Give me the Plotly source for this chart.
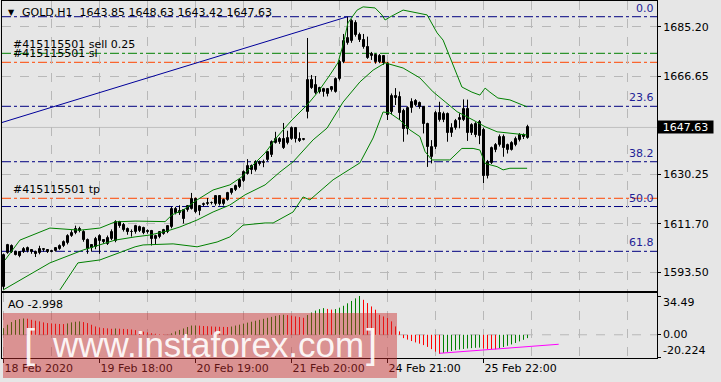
import plotly.graph_objects as go

# ---------------- data ----------------
opens = [1588.0, 1600.9, 1603.4, 1601.3, 1601.0, 1601.1, 1601.5, 1601.8, 1601.3, 1600.8,
         1601.8, 1601.8, 1601.3, 1601.6, 1602.4, 1603.4, 1604.5, 1607.2, 1608.3, 1609.8,
         1608.6, 1605.8, 1603.6, 1603.0, 1605.2, 1605.5, 1604.2, 1606.2, 1605.2, 1612.2,
         1611.4, 1609.8, 1608.8, 1608.6, 1609.0, 1610.0, 1609.0, 1609.0, 1606.1, 1606.8,
         1608.0, 1608.6, 1610.4, 1617.3, 1615.6, 1616.7, 1616.7, 1617.3, 1621.1, 1616.4,
         1618.6, 1619.2, 1619.3, 1618.9, 1621.9, 1618.9, 1620.7, 1623.0, 1624.2, 1625.4,
         1627.7, 1630.4, 1633.2, 1631.7, 1634.8, 1634.2, 1635.4, 1637.3, 1642.0, 1643.5,
         1643.2, 1641.8, 1643.5, 1647.3, 1643.3, 1643.1, 1653.3, 1665.4, 1660.4, 1662.3,
         1660.8, 1660.0, 1661.6, 1661.0, 1665.7, 1672.0, 1679.3, 1679.7, 1686.7, 1682.2,
         1680.3, 1677.5, 1674.2, 1674.5, 1674.1, 1674.1, 1671.2, 1653.5, 1659.4, 1658.9,
         1653.9, 1646.9, 1654.8, 1657.6, 1656.6, 1655.1, 1648.9, 1636.7, 1640.2, 1653.1,
         1650.4, 1652.6, 1645.6, 1647.3, 1650.4, 1650.4, 1654.4, 1645.4, 1648.9, 1644.4,
         1646.6, 1629.4, 1634.4, 1639.2, 1641.0, 1644.1, 1639.4, 1639.4, 1641.0, 1642.9,
         1644.8, 1643.85]
highs = [1600.6, 1604.2, 1604.0, 1601.7, 1601.5, 1603.0, 1603.2, 1602.2, 1601.7, 1603.5,
         1602.6, 1602.0, 1602.0, 1603.0, 1604.0, 1605.5, 1607.8, 1609.3, 1611.0, 1610.6,
         1609.3, 1606.2, 1604.0, 1606.8, 1607.8, 1606.0, 1607.3, 1609.6, 1613.0, 1612.8,
         1612.0, 1610.3, 1609.6, 1611.3, 1611.0, 1610.6, 1609.6, 1609.4, 1607.6, 1609.0,
         1609.8, 1611.2, 1618.0, 1618.0, 1618.6, 1617.2, 1618.6, 1623.2, 1621.5, 1618.6,
         1619.6, 1621.3, 1620.0, 1622.3, 1622.4, 1621.1, 1623.6, 1625.0, 1626.3, 1628.6,
         1631.6, 1635.8, 1633.8, 1635.4, 1635.3, 1635.6, 1638.8, 1642.8, 1646.0, 1644.0,
         1649.3, 1646.4, 1648.0, 1647.8, 1645.8, 1643.6, 1681.0, 1667.2, 1666.8, 1662.8,
         1662.4, 1662.3, 1663.0, 1666.3, 1672.8, 1682.5, 1688.93, 1688.0, 1687.6, 1683.0,
         1682.5, 1681.5, 1675.8, 1675.2, 1675.0, 1674.6, 1672.0, 1660.3, 1662.3, 1661.0,
         1654.6, 1655.5, 1658.5, 1658.2, 1657.3, 1655.6, 1649.4, 1642.9, 1653.8, 1657.2,
         1653.5, 1653.2, 1649.2, 1650.8, 1652.9, 1658.1, 1658.0, 1649.2, 1649.6, 1650.4,
         1647.5, 1635.5, 1640.5, 1641.8, 1645.0, 1645.0, 1641.6, 1642.5, 1644.2, 1645.5,
         1645.4, 1648.63]
lows = [1587.2, 1600.5, 1600.8, 1599.9, 1599.2, 1600.8, 1601.0, 1600.5, 1599.3, 1600.3,
        1601.3, 1600.8, 1601.0, 1601.3, 1602.0, 1603.0, 1604.0, 1606.8, 1607.8, 1608.5,
        1605.0, 1600.5, 1601.3, 1602.2, 1600.5, 1604.3, 1603.8, 1605.6, 1604.8, 1610.2,
        1608.8, 1607.6, 1606.9, 1608.0, 1608.6, 1607.8, 1608.0, 1603.6, 1603.8, 1606.3,
        1607.6, 1608.2, 1610.0, 1615.2, 1615.0, 1611.8, 1616.2, 1617.0, 1615.6, 1614.9,
        1618.2, 1618.6, 1618.9, 1618.5, 1618.5, 1618.5, 1620.3, 1622.6, 1623.9, 1625.0,
        1627.3, 1630.0, 1630.2, 1631.2, 1633.4, 1632.8, 1635.0, 1636.6, 1641.6, 1641.5,
        1639.6, 1641.3, 1643.0, 1642.0, 1642.2, 1642.8, 1651.0, 1662.0, 1660.0, 1660.3,
        1659.1, 1659.2, 1661.0, 1660.6, 1665.2, 1671.6, 1678.5, 1679.2, 1681.5, 1679.5,
        1677.0, 1673.2, 1672.8, 1671.4, 1671.6, 1671.0, 1650.4, 1652.5, 1656.0, 1650.4,
        1642.3, 1645.0, 1653.1, 1655.5, 1654.6, 1645.4, 1632.9, 1634.2, 1639.6, 1649.8,
        1649.6, 1642.3, 1644.1, 1646.8, 1647.3, 1650.0, 1642.6, 1644.8, 1644.0, 1641.4,
        1626.9, 1628.6, 1634.0, 1638.4, 1640.5, 1636.7, 1637.9, 1639.0, 1640.6, 1642.4,
        1643.3, 1643.42]
closes = [1599.9, 1603.6, 1601.1, 1600.2, 1599.5, 1602.4, 1602.6, 1601.0, 1600.3, 1602.3,
          1602.2, 1601.3, 1601.6, 1602.5, 1603.5, 1604.8, 1607.2, 1608.4, 1609.8, 1609.0,
          1605.6, 1602.4, 1602.5, 1606.1, 1607.0, 1604.8, 1606.4, 1608.6, 1612.3, 1611.0,
          1609.2, 1608.6, 1608.6, 1610.7, 1610.4, 1608.2, 1608.6, 1606.1, 1607.2, 1608.6,
          1609.2, 1610.7, 1617.3, 1615.7, 1616.4, 1613.6, 1618.2, 1621.1, 1616.1, 1618.2,
          1619.2, 1619.3, 1619.6, 1621.9, 1618.9, 1620.7, 1623.2, 1624.5, 1625.8, 1628.2,
          1631.0, 1633.2, 1631.7, 1634.8, 1634.0, 1634.8, 1638.3, 1642.3, 1643.5, 1642.2,
          1640.0, 1643.7, 1647.5, 1643.3, 1642.6, 1643.3, 1665.4, 1662.5, 1663.5, 1660.8,
          1662.0, 1661.8, 1662.6, 1665.7, 1672.2, 1679.7, 1681.0, 1687.2, 1682.2, 1680.3,
          1677.5, 1673.7, 1675.0, 1672.0, 1672.2, 1671.6, 1652.3, 1659.5, 1658.5, 1652.9,
          1646.9, 1654.8, 1657.2, 1656.0, 1655.1, 1648.9, 1640.2, 1640.2, 1653.1, 1650.4,
          1652.6, 1645.6, 1647.3, 1650.1, 1651.0, 1654.4, 1645.4, 1648.5, 1644.8, 1649.8,
          1629.4, 1634.8, 1639.8, 1641.0, 1644.1, 1639.8, 1641.0, 1641.7, 1643.5, 1644.8,
          1643.9, 1647.63]

# green indicator lines (bar index, price) read at their turning points
upper_x = [0.4, 4.1, 11.6, 19.1, 24.1, 27.9, 32.9, 40.4, 42.1, 44.9, 48.4, 52.4, 56.6, 59.6,
           61.6, 65.4, 68.4, 72.1, 75.9, 78.6, 81.6, 83.6, 84.9, 86.1, 88.4, 89.9, 92.9,
           94.6, 95.4, 96.6, 99.9, 105.9, 108.4, 109.9, 114.6, 117.1, 119.1, 120.4, 121.6,
           123.6, 126.6, 129.6, 130.9]
upper_y = [1598.2, 1605.6, 1610.1, 1609.3, 1610.1, 1612.4, 1612.7, 1612.5, 1615.0, 1616.8,
           1620.6, 1624.3, 1626.2, 1629.2, 1632.5, 1638.1, 1644.1, 1650.4, 1656.0, 1660.8,
           1667.2, 1671.7, 1678.4, 1686.6, 1691.4, 1692.6, 1692.2, 1689.6, 1687.7, 1688.8,
           1691.4, 1689.6, 1682.9, 1680.2, 1662.7, 1660.8, 1659.7, 1662.3, 1660.8, 1658.6,
           1657.9, 1656.0, 1655.3]
middle_x = [-0.1, 11.6, 19.9, 27.9, 32.9, 36.6, 40.9, 44.1, 48.4, 52.4, 56.6, 60.4, 65.4,
            69.1, 72.4, 77.4, 80.9, 84.9, 89.1, 92.4, 95.4, 97.4, 99.9, 104.1, 107.4, 110.4,
            113.4, 117.4, 120.4, 123.4, 126.6, 130.9]
middle_y = [1587.0, 1597.1, 1601.9, 1605.6, 1606.8, 1607.5, 1609.0, 1610.5, 1613.1, 1616.1,
            1618.7, 1622.5, 1626.2, 1631.0, 1634.8, 1643.0, 1647.4, 1657.1, 1664.6, 1669.0,
            1671.7, 1670.9, 1669.8, 1666.1, 1660.9, 1657.2, 1653.5, 1650.4, 1647.9, 1646.0,
            1645.4, 1644.8]
lower_x = [14.1, 18.6, 24.1, 32.9, 34.9, 39.9, 42.4, 48.4, 53.4, 56.6, 59.9, 65.4, 67.4,
           72.4, 74.9, 76.6, 82.4, 89.1, 92.4, 94.9, 96.6, 99.1, 101.6, 104.1, 105.4, 107.1,
           111.6, 114.6, 117.4, 119.1, 120.4, 123.4, 124.9, 126.6, 130.9]
lower_y = [1587.0, 1597.1, 1598.2, 1603.1, 1603.8, 1604.2, 1604.2, 1603.1, 1604.9, 1606.8,
           1611.2, 1612.0, 1612.0, 1616.1, 1621.7, 1620.6, 1628.1, 1634.4, 1643.7, 1653.4,
           1653.0, 1650.4, 1646.7, 1644.2, 1638.6, 1635.5, 1635.5, 1639.8, 1639.8, 1639.2,
           1634.2, 1633.0, 1631.8, 1632.4, 1632.4]

ao_values = [5.9, 8.9, 11.3, 13.1, 13.9, 14.5, 14.3, 13.3, 12.5, 11.9,
             11.0, 10.4, 10.1, 9.8, 9.6, 9.5, 10.1, 11.0, 11.6, 11.9,
             11.3, 10.4, 8.9, 7.4, 6.5, 5.9, 5.7, 5.3, 5.6, 5.4,
             5.2, 5.0, 4.7, 4.1, 3.4, 2.8, 2.1, 1.4, 0.9, 0.5,
             0.3, 0.2, 1.3, 3.0, 4.3, 5.6, 6.9, 8.2, 8.3, 8.1,
             7.8, 7.6, 7.4, 7.2, 7.1, 7.0, 6.9, 7.3, 8.2, 9.0,
             9.9, 10.8, 11.6, 12.5, 13.3, 14.2, 15.1, 15.9, 16.8, 17.5,
             17.8, 17.5, 17.0, 16.3, 15.7, 15.1, 17.6, 19.8, 21.5, 22.8,
             23.7, 23.0, 22.4, 22.8, 24.1, 25.8, 28.0, 30.1, 32.4, 34.49,
             31.1, 28.2, 25.2, 22.3, 17.8, 16.3, 14.9, 11.9, 7.4, 3.0,
             -3.0, -4.3, -5.6, -6.8, -7.9, -9.2, -10.8, -12.8, -15.0, -17.0,
             -16.2, -15.2, -14.4, -13.7, -13.1, -12.6, -12.2, -11.9, -11.6, -11.4,
             -12.2, -12.6, -12.8, -12.9, -12.0, -10.9, -9.8, -8.6, -7.3, -5.9,
             -4.5, -2.998]
ao_trend_x = [109.0, 138.8]
ao_trend_y = [-16.5, -8.45]

fib_high = 1688.93
fib_low = 1547.33
fib_levels = [0.0, 23.6, 38.2, 50.0, 61.8]
fib_anchor_x = [-224.0, 86.0]
order_open = 1675.28
order_sl = 1671.92
order_tp = 1621.2
bid = 1647.63

price_ticks = [1685.20, 1666.65, 1630.25, 1611.70, 1593.50]
price_tick_text = ["1685.20", "1666.65", "1630.25", "1611.70", "1593.50"]
time_ticks = [0, 24, 48, 72, 96, 120]
time_tick_text = ["18 Feb 2020", "19 Feb 18:00", "20 Feb 19:00", "21 Feb 20:00",
                  "24 Feb 21:00", "25 Feb 22:00"]
ao_max, ao_min = 34.49, -20.224

# ---------------- figure ----------------
W, H = 721, 382
FONT = "DejaVu Sans"
BG = "#e6e6e6"
GRID = "#b8b8b8"
NAVY = "#000080"

def px_x(p):
    return p / W

def px_y(p):
    return 1 - p / H

n = len(opens)
idx = list(range(n))

fig = go.Figure()

# wicks
wx, wy = [], []
for i in idx:
    wx += [i, i, None]
    wy += [lows[i], highs[i], None]
fig.add_trace(go.Scatter(x=wx, y=wy, mode="lines", line=dict(color="black", width=1),
                         xaxis="x", yaxis="y", hoverinfo="skip"))

# bodies
base = [min(o, c) for o, c in zip(opens, closes)]
height = [max(abs(c - o), 0.12) for o, c in zip(opens, closes)]
colors = ["#ffffff" if c >= o else "#000000" for o, c in zip(opens, closes)]
fig.add_trace(go.Bar(x=idx, y=height, base=base, width=0.5,
                     marker=dict(color=colors, line=dict(color="black", width=1)),
                     xaxis="x", yaxis="y", hoverinfo="skip"))

# green indicator lines
for xs, ys in [(upper_x, upper_y), (middle_x, middle_y), (lower_x, lower_y)]:
    fig.add_trace(go.Scatter(x=xs, y=ys, mode="lines", line=dict(color="#008000", width=1),
                             xaxis="x", yaxis="y", hoverinfo="skip"))

# fibonacci diagonal
fig.add_trace(go.Scatter(x=fib_anchor_x, y=[fib_low, fib_high], mode="lines",
                         line=dict(color="#00009a", width=1), xaxis="x", yaxis="y",
                         hoverinfo="skip"))

# AO histogram
gx, gy, rx, ry = [], [], [], []
for i, v in enumerate(ao_values):
    up = i == 0 or v >= ao_values[i - 1]
    if up:
        gx += [i, i, None]; gy += [0, v, None]
    else:
        rx += [i, i, None]; ry += [0, v, None]
fig.add_trace(go.Scatter(x=gx, y=gy, mode="lines", line=dict(color="#008000", width=1),
                         xaxis="x2", yaxis="y2", hoverinfo="skip"))
fig.add_trace(go.Scatter(x=rx, y=ry, mode="lines", line=dict(color="#ff0000", width=1),
                         xaxis="x2", yaxis="y2", hoverinfo="skip"))
fig.add_trace(go.Scatter(x=ao_trend_x, y=ao_trend_y, mode="lines",
                         line=dict(color="#ff00ff", width=1), xaxis="x2", yaxis="y2",
                         hoverinfo="skip"))

shapes = []
DASHDOT = "9px,3px,3px,3px"
shapes.append(dict(type="line", xref="x domain", x0=0, x1=1, yref="y", y0=bid, y1=bid,
                   line=dict(color="#c0c0c0", width=1), layer="below"))
for lv in fib_levels:
    p = fib_high - (fib_high - fib_low) * lv / 100.0
    shapes.append(dict(type="line", xref="x domain", x0=0, x1=1, yref="y", y0=p, y1=p,
                       line=dict(color=NAVY, width=1, dash=DASHDOT), layer="below"))
shapes.append(dict(type="line", xref="x domain", x0=0, x1=1, yref="y", y0=order_open,
                   y1=order_open, line=dict(color="#008000", width=1, dash=DASHDOT),
                   layer="below"))
for p in (order_sl, order_tp):
    shapes.append(dict(type="line", xref="x domain", x0=0, x1=1, yref="y", y0=p, y1=p,
                       line=dict(color="#ff4500", width=1, dash=DASHDOT), layer="below"))
# dashed zero line for AO
shapes.append(dict(type="line", xref="x2 domain", x0=0, x1=1, yref="y2", y0=0, y1=0,
                   line=dict(color=GRID, width=1, dash="dash"), layer="below"))
# watermark box
shapes.append(dict(type="rect", xref="paper", yref="paper", x0=px_x(3), x1=px_x(397),
                   y0=px_y(378), y1=px_y(313), fillcolor="rgba(205,45,45,0.45)",
                   line=dict(width=0), layer="above"))

ann = []
f11 = dict(family=FONT, size=11, color="black")
ann.append(dict(text="▼", xref="paper", yref="paper", x=px_x(6), y=px_y(12),
                xanchor="left", yanchor="middle", showarrow=False,
                font=dict(family=FONT, size=8, color="black")))
ann.append(dict(text="GOLD,H1\u00a0 1643.85 1648.63 1643.42 1647.63", xref="paper",
                yref="paper", x=px_x(20), y=px_y(12), xanchor="left", yanchor="middle",
                showarrow=False, font=f11))
for lv in fib_levels:
    p = fib_high - (fib_high - fib_low) * lv / 100.0
    ann.append(dict(text=f"{lv:.1f}", xref="x domain", x=0.998, yref="y", y=p,
                    xanchor="right", yanchor="bottom", showarrow=False,
                    font=dict(family=FONT, size=11, color="#1e1e96")))
ann.append(dict(text="#415115501 sell 0.25", xref="paper", x=px_x(11), yref="y",
                y=order_open, xanchor="left", yanchor="bottom", showarrow=False, font=f11))
ann.append(dict(text="#415115501 sl", xref="paper", x=px_x(11), yref="y",
                y=order_sl, xanchor="left", yanchor="bottom", showarrow=False, font=f11))
ann.append(dict(text="#415115501 tp", xref="paper", x=px_x(11), yref="y",
                y=order_tp, xanchor="left", yanchor="bottom", showarrow=False, font=f11))
ann.append(dict(text="1647.63", xref="paper", x=px_x(657), yref="y", y=bid,
                xanchor="left", yanchor="middle", showarrow=False, bgcolor="black",
                width=53, height=10, borderpad=1,
                font=dict(family=FONT, size=11, color="white")))
ann.append(dict(text="AO -2.998", xref="paper", yref="paper", x=px_x(6), y=px_y(304),
                xanchor="left", yanchor="middle", showarrow=False, font=f11))
ann.append(dict(text="34.49", xref="paper", x=px_x(661), yref="paper", y=px_y(302),
                xanchor="left", yanchor="middle", showarrow=False, font=f11))
ann.append(dict(text="0.00", xref="paper", x=px_x(661), yref="y2", y=0,
                xanchor="left", yanchor="middle", showarrow=False, font=f11))
ann.append(dict(text="-20.224", xref="paper", x=px_x(661), yref="paper", y=px_y(350),
                xanchor="left", yanchor="middle", showarrow=False, font=f11))
# watermark text
wm_col = "rgba(255,255,255,0.92)"
ann.append(dict(text="www.instaforex.com", xref="paper", yref="paper", x=px_x(208),
                y=px_y(344), xanchor="center", yanchor="middle", showarrow=False,
                font=dict(family="Liberation Sans", size=35, color=wm_col)))
ann.append(dict(text="[", xref="paper", yref="paper", x=px_x(29), y=px_y(344),
                xanchor="center", yanchor="middle", showarrow=False,
                font=dict(family="Liberation Sans", size=40, color=wm_col)))
ann.append(dict(text="]", xref="paper", yref="paper", x=px_x(371), y=px_y(344),
                xanchor="center", yanchor="middle", showarrow=False,
                font=dict(family="Liberation Sans", size=40, color=wm_col)))

x_range = [-0.375, 163.375]
x_dom = [px_x(2), px_x(657)]
grid_vals = list(range(12, 160, 12))

fig.update_layout(
    width=W, height=H, margin=dict(l=0, r=0, t=0, b=0),
    paper_bgcolor=BG, plot_bgcolor=BG, showlegend=False, hovermode=False,
    barmode="overlay", bargap=0,
    shapes=shapes, annotations=ann,
    xaxis=dict(domain=x_dom, range=x_range, anchor="y", showticklabels=False,
               tickvals=grid_vals, ticks="", showgrid=True, gridcolor=GRID,
               griddash="dash", gridwidth=1, zeroline=False, showline=True,
               linecolor="black", linewidth=1, mirror=True),
    yaxis=dict(domain=[px_y(291), px_y(1)], range=[1586.62, 1694.79], anchor="x",
               side="right", tickvals=price_ticks, ticktext=price_tick_text,
               ticks="outside", ticklen=3, tickcolor="black", tickfont=f11,
               showgrid=True, gridcolor=GRID, griddash="dash", zeroline=False,
               showline=True, linecolor="black", linewidth=1, mirror=True),
    xaxis2=dict(domain=x_dom, range=x_range, anchor="y2", tickvals=time_ticks,
                ticktext=time_tick_text, ticks="outside", ticklen=4, tickcolor="black",
                tickfont=f11, ticklabelposition="outside right", showgrid=True,
                gridcolor=GRID, griddash="dash",
                minor=dict(tickvals=grid_vals, showgrid=True, gridcolor=GRID,
                           griddash="dash", ticks=""),
                zeroline=False, showline=True, linecolor="black", linewidth=1,
                mirror=True),
    yaxis2=dict(domain=[px_y(358), px_y(293)], range=[-20.67, 37.16], anchor="x2",
                side="right", tickvals=[ao_max, 0, ao_min], ticks="outside", ticklen=3,
                tickcolor="black", showticklabels=False, showgrid=False,
                zeroline=False, showline=True, linecolor="black", linewidth=1,
                mirror=True),
)

fig.write_html("out.html")
